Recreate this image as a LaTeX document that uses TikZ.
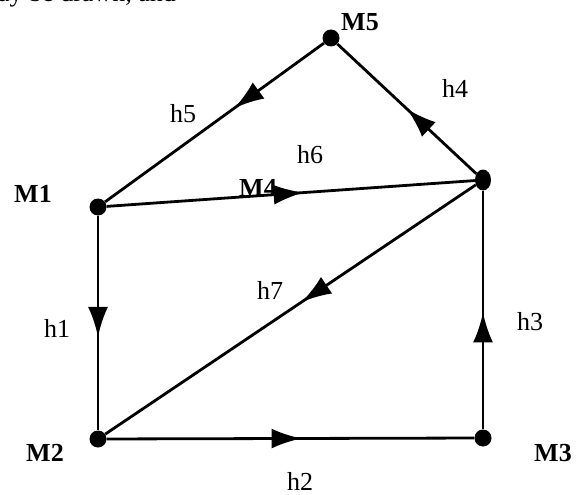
\documentclass[tikz,border=0pt]{standalone}
\usepackage{fontspec}
\setmainfont{Liberation Serif}
\usetikzlibrary{arrows.meta,decorations.markings,shapes.geometric}
\begin{document}
\begin{tikzpicture}[x=1pt,y=-1pt,
  dot/.style={circle,fill=black,inner sep=0pt,minimum size=17pt},
  edge/.style={line width=2.8pt},
  lbl/.style={font=\fontsize{26}{30}\selectfont,inner sep=0pt},
  mname/.style={font=\bfseries\fontsize{26}{30}\selectfont,inner sep=0pt},
  midarrow/.style={postaction={decorate},decoration={markings,
    mark=at position #1 with {\arrow{Latex[length=30pt,width=20pt]}}}}]
\useasboundingbox (0,0) rectangle (576,495);
\fill[white] (0,0) rectangle (576,495);
% clipped text of the page above
\node[lbl,anchor=base west] (top) at (-2,2) {ay be drawn, and};
% vertices
\node[dot] (M5) at (331,38) {};
\node[dot] (M1) at (98,207) {};
\node[ellipse,fill=black,inner sep=0pt,minimum width=16pt,minimum height=21pt] (M4) at (483,180) {};
\node[dot] (M2) at (98,439) {};
\node[dot] (M3) at (483,438) {};
% vertex names
\node[mname] (nM5) at (360,22) {M5};
\node[mname] (nM1) at (33,194) {M1};
\node[mname] (nM4) at (258,188) {M4};
\node[mname] (nM2) at (45,453) {M2};
\node[mname] (nM3) at (553,453) {M3};
% edges
\draw[edge,midarrow=0.41] (M5) -- (M1);
\draw[edge,midarrow=0.50] (M4) -- (M5);
\draw[edge,midarrow=0.535] (M1) -- (M4);
\draw[edge,midarrow=0.47] (M4) -- (M2);
\draw[edge,midarrow=0.565] (M1) -- (M2);
\draw[edge,midarrow=0.53] (M2) -- (M3);
\draw[edge,midarrow=0.49] (M3) -- (M4);
% edge labels
\node[lbl] (h5) at (183,114) {h5};
\node[lbl] (h4) at (455,88) {h4};
\node[lbl] (h6) at (310,155) {h6};
\node[lbl] (h7) at (270,290) {h7};
\node[lbl] (h1) at (57,328) {h1};
\node[lbl] (h3) at (530,322) {h3};
\node[lbl] (h2) at (300,481) {h2};
\end{tikzpicture}
\end{document}
